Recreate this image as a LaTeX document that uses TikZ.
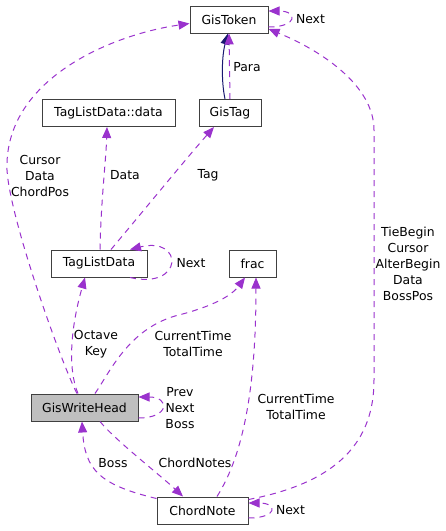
\documentclass[tikz,border=0pt]{standalone}
\usepackage{fontspec}
\setmainfont{DejaVu Sans}
\usetikzlibrary{arrows.meta}
\pgfdeclarelayer{nodelayer}
\pgfdeclarelayer{edgelayer}
\pgfsetlayers{nodelayer,edgelayer,main}
\definecolor{usecolor}{HTML}{9A32CD}
\definecolor{inhcolor}{HTML}{191970}
\definecolor{boxborder}{HTML}{404040}
\definecolor{curfill}{HTML}{BFBFBF}
\tikzset{
  classbox/.style={draw=boxborder, fill=white, line width=1pt, minimum height=27pt,
    inner sep=0pt, font=\fontsize{12.4}{16}\selectfont},
  edgelabel/.style={inner sep=0pt, align=center, font=\fontsize{12.4}{16}\selectfont},
  uses/.style={draw=usecolor, line width=1pt, dash pattern=on 6pt off 5pt,
    -{Triangle[length=11pt,width=9pt]}},
  inherits/.style={draw=inhcolor, line width=1pt, -{Triangle[length=11pt,width=9pt]}},
}

\begin{document}
\begin{tikzpicture}[x=1pt, y=-1pt]
  \useasboundingbox (0, 0) rectangle (446, 531);
  \begin{pgfonlayer}{nodelayer}
    % classes
    \node [classbox, minimum width=78pt] (token) at (229, 19.5) {GisToken};
    \node [classbox, minimum width=133pt] (tldata) at (108.5, 113) {TagListData::data};
    \node [classbox, minimum width=62pt] (tag) at (230, 113) {GisTag};
    \node [classbox, minimum width=96pt] (taglist) at (99, 263.5) {TagListData};
    \node [classbox, minimum width=47pt] (frac) at (252.5, 263.5) {frac};
    \node [classbox, minimum width=107pt, fill=curfill] (head) at (84.5, 407.5) {GisWriteHead};
    \node [classbox, minimum width=91pt] (chord) at (202.5, 510.5) {ChordNote};
    % labels
    \node [edgelabel] (l-tnext) at (310.5, 19.5) {Next};
    \node [edgelabel] (l-para) at (247, 67) {Para};
    \node [edgelabel] (l-cursor) at (40, 176) {Cursor\\Data\\ChordPos};
    \node [edgelabel] (l-data) at (125, 175) {Data};
    \node [edgelabel] (l-tag) at (208, 175) {Tag};
    \node [edgelabel] (l-lnext) at (191, 263.5) {Next};
    \node [edgelabel] (l-tie) at (408, 264) {TieBegin\\Cursor\\AlterBegin\\Data\\BossPos};
    \node [edgelabel] (l-octave) at (96, 344) {Octave\\Key};
    \node [edgelabel] (l-htime) at (193, 344) {CurrentTime\\TotalTime};
    \node [edgelabel] (l-hself) at (180, 408) {Prev\\Next\\Boss};
    \node [edgelabel] (l-ctime) at (296, 407) {CurrentTime\\TotalTime};
    \node [edgelabel] (l-boss) at (113, 463) {Boss};
    \node [edgelabel] (l-notes) at (195, 463) {ChordNotes};
    \node [edgelabel] (l-cnext) at (290.5, 510.5) {Next};
  \end{pgfonlayer}
  \begin{pgfonlayer}{edgelayer}
    \draw [uses] ([yshift=-7.5pt]token.east) .. controls (298, 27) and (298, 11) .. ([yshift=8.5pt]token.east);
    \draw [inherits] ([xshift=-5pt]tag.north) .. controls (221, 80) and (222, 55) .. ([xshift=-1pt]token.south);
    \draw [uses] (tag.north) -- (token.south);
    \draw [uses] ([xshift=-7.5pt]head.north) .. controls (62, 365) and (10, 220) .. (7, 170)
      .. controls (4, 80) and (110, 35) .. ([yshift=-4pt]token.west);
    \draw [uses] ([xshift=1pt]taglist.north) .. controls (101, 200) and (106, 160) .. ([xshift=-1.5pt]tldata.south);
    \draw [uses] ([xshift=12pt]taglist.north) .. controls (140, 215) and (185, 160) .. ([xshift=-16pt]tag.south);
    \draw [uses] ([xshift=31pt]taglist.south) .. controls (184, 290) and (184, 236) .. ([xshift=31pt]taglist.north);
    \draw [uses] ([xshift=-6.5pt]head.north) .. controls (68, 370) and (70, 330) .. ([xshift=-14pt]taglist.south);
    \draw [uses] ([xshift=10.5pt]head.north) .. controls (110, 372) and (128, 330) .. (175, 316)
      .. controls (215, 306) and (232, 295) .. ([xshift=-7.5pt]frac.south);
    \draw [uses] ([yshift=-10.5pt]head.east) .. controls (170, 418) and (170, 397) .. ([yshift=10.5pt]head.east);
    \draw [uses] ([xshift=15.5pt]head.south) .. controls (115, 440) and (160, 475) .. ([xshift=-19.5pt]chord.north);
    \draw [uses] ([yshift=-2pt]chord.north west) .. controls (100, 485) and (85, 470) .. ([xshift=-2.5pt]head.south);
    \draw [uses] ([xshift=14.5pt]chord.north) .. controls (240, 460) and (256, 400) .. ([xshift=3.5pt]frac.south);
    \draw [uses] ([yshift=-3pt]chord.north east) .. controls (340, 482) and (374, 440) .. (374, 380)
      -- (374, 130) .. controls (374, 85) and (320, 50) .. ([yshift=-9.5pt]token.east);
    \draw [uses] ([yshift=-7.5pt]chord.east) .. controls (278, 518) and (278, 503) .. ([yshift=7.5pt]chord.east);
  \end{pgfonlayer}
\end{tikzpicture}
\end{document}
